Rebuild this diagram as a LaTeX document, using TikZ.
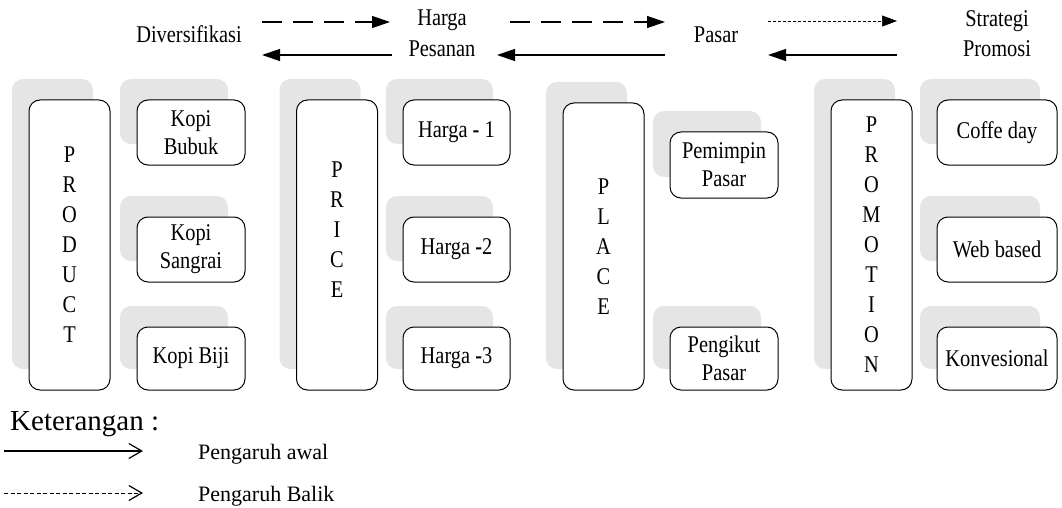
\documentclass[tikz,border=0pt]{standalone}
\usepackage{fontspec}
\setmainfont{Liberation Serif}
\newfontfamily\narrowserif{Liberation Serif}[FakeStretch=0.85]
\usetikzlibrary{arrows.meta,shadows}

\tikzset{
  txt/.style={inner sep=0pt, font=\narrowserif\fontsize{24}{24}\selectfont},
  card/.style={draw, line width=1pt, rounded corners=11pt, fill=white,
    align=center, inner sep=0pt, minimum width=108pt, minimum height=65pt,
    font=\narrowserif\fontsize{24}{28}\selectfont,
    drop shadow={shadow xshift=-17pt, shadow yshift=21pt, opacity=1, fill=black!10}},
  pillar/.style={card, minimum width=81pt, minimum height=290pt,
    font=\narrowserif\fontsize{24}{30}\selectfont},
  fwd/.style={line width=1.3pt, dash pattern=on 20pt off 11pt,
    -{Triangle[length=18pt,width=12pt]}},
  back/.style={line width=1.3pt, -{Triangle[length=18pt,width=12pt]}},
  fine/.style={line width=0.6pt, dash pattern=on 3pt off 2pt,
    -{Triangle[length=15pt,width=11pt]}},
  keysolid/.style={line width=1.2pt, -{Straight Barb[length=13pt,width=15pt,line width=1.2pt]}},
  keydash/.style={line width=1pt, dash pattern=on 4pt off 2.5pt,
    -{Straight Barb[length=13pt,width=15pt,line width=1.2pt]}},
  keytxt/.style={inner sep=0pt, font=\fontsize{22}{22}\selectfont, anchor=base west},
}

\begin{document}
\begin{tikzpicture}[x=1pt, y=-1pt]
\useasboundingbox (0,0) rectangle (1062,508);

% top row of labels
\node[txt, anchor=base] (div) at (189,43) {Diversifikasi};
\node[txt, anchor=base] (hargaA) at (442,26) {Harga};
\node[txt, anchor=base] (hargaB) at (442,57) {Pesanan};
\node[txt, anchor=base] (pasar) at (716,43) {Pasar};
\node[txt, anchor=base] (stratA) at (997,27) {Strategi};
\node[txt, anchor=base] (stratB) at (997,57) {Promosi};

% arrow end points between the labels
\coordinate (a1l) at (262,22); \coordinate (a1r) at (390,22);
\coordinate (b1l) at (262,55); \coordinate (b1r) at (392,55);
\coordinate (a2l) at (510,22); \coordinate (a2r) at (665,22);
\coordinate (b2l) at (497,55); \coordinate (b2r) at (665,55);
\coordinate (a3l) at (768,21); \coordinate (a3r) at (897,21);
\coordinate (b3l) at (768,55); \coordinate (b3r) at (897,55);

\draw[fwd] (a1l) -- (a1r);
\draw[back] (b1r) -- (b1l);
\draw[fwd] (a2l) -- (a2r);
\draw[back] (b2r) -- (b2l);
\draw[fine] (a3l) -- (a3r);
\draw[back] (b3r) -- (b3l);

% product
\node[pillar] (product) at (69.5,245) {P\\R\\O\\D\\U\\C\\T};
\node[card] (bubuk) at (191,132.5) {Kopi\\Bubuk};
\node[card] (sangrai) at (191,249.5) {Kopi\\Sangrai};
\node[card, minimum height=63pt] (biji) at (191,358.5) {Kopi Biji};

% price (letters sit a little above the middle)
\node[pillar] (price) at (337,245) {P\\R\\I\\C\\E\\\mbox{}};
\node[card, minimum width=107pt] (h1) at (456.5,132.5) {Harga \textbf{-} 1};
\node[card, minimum width=107pt] (h2) at (456.5,249.5) {Harga \textbf{-}2};
\node[card, minimum width=107pt, minimum height=63pt] (h3) at (456.5,358.5) {Harga \textbf{-}3};

% place
\node[pillar, minimum height=287pt] (place) at (603.5,246.5) {P\\L\\A\\C\\E};
\node[card, minimum height=66pt] (leader) at (724,165) {Pemimpin\\Pasar};
\node[card, minimum height=63pt] (follower) at (724,358.5) {Pengikut\\Pasar};

% promotion
\node[pillar] (promotion) at (871.5,245) {P\\R\\O\\M\\O\\T\\I\\O\\N};
\node[card, minimum width=120pt] (coffee) at (997,132.5) {Coffe day};
\node[card, minimum width=120pt] (web) at (997,249.5) {Web based};
\node[card, minimum width=120pt, minimum height=63pt] (konv) at (997,358.5) {Konvesional};

% key
\node[inner sep=0pt, font=\fontsize{29}{29}\selectfont, anchor=base west] (ket) at (10,430) {Keterangan :};
\coordinate (k1l) at (4,451); \coordinate (k1r) at (143,451);
\coordinate (k2l) at (4,493); \coordinate (k2r) at (143,493);
\draw[keysolid] (k1l) -- (k1r);
\draw[keydash] (k2l) -- (k2r);
\node[keytxt] (awal) at (198,459) {Pengaruh awal};
\node[keytxt] (balik) at (198,501) {Pengaruh Balik};
\end{tikzpicture}
\end{document}
